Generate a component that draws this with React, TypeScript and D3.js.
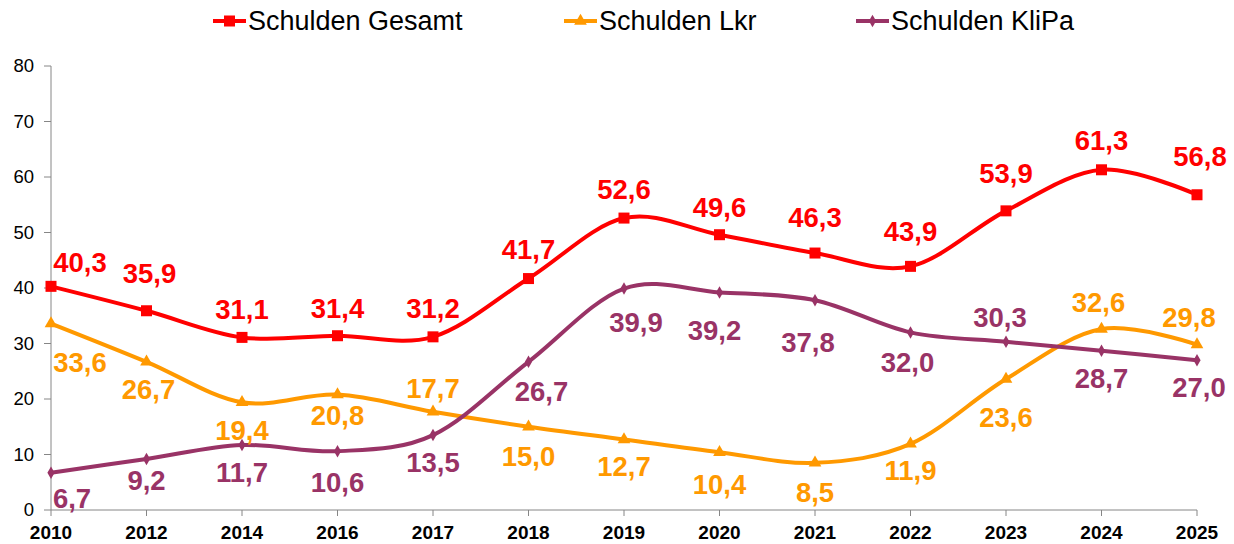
import React from 'react'
import * as d3 from 'd3'

const years = ['2010', '2012', '2014', '2016', '2017', '2018', '2019', '2020', '2021', '2022', '2023', '2024', '2025']
const gesamt = [40.3, 35.9, 31.1, 31.4, 31.2, 41.7, 52.6, 49.6, 46.3, 43.9, 53.9, 61.3, 56.8]
const lkr = [33.6, 26.7, 19.4, 20.8, 17.7, 15.0, 12.7, 10.4, 8.5, 11.9, 23.6, 32.6, 29.8]
const klipa = [6.7, 9.2, 11.7, 10.6, 13.5, 26.7, 39.9, 39.2, 37.8, 32.0, 30.3, 28.7, 27.0]
const yTicks = [0, 10, 20, 30, 40, 50, 60, 70, 80]

// label nudges (px) relative to each point, as placed in the original
const gesamtDx = [29, 3, 0, 0, 0, 0, 0, 0, 0, 0, 0, 0, 3]
const gesamtDy = [-24, -38, -28, -28, -29, -29, -29, -28, -36, -35, -38, -30, -39]
const lkrDx = [29, 2, 0, 0, 0, 0, 0, 0, 0, 0, 0, -3, -8]
const lkrDy = [39, 27, 28, 21, -24, 29, 27, 32, 29, 26, 38, -27, -28]
const klipaDx = [21, 0, 0, 0, 0, 13, 12, -5, -7, -3, -6, 0, 2]
const klipaDy = [25, 21, 27, 31, 27, 29, 34, 38, 42, 30, -25, 27, 27]

const W = 1234
const H = 544
const left = 51
const right = 1197
const top = 66
const bottom = 510
const font = '"Liberation Sans", Arial, sans-serif'
const fmt = (v: number) => v.toFixed(1).replace('.', ',')

const series = [
  { name: 'Schulden Gesamt', values: gesamt, color: '#FF0000', marker: 'square', dx: gesamtDx, dy: gesamtDy, lx: 213 },
  { name: 'Schulden Lkr', values: lkr, color: '#FF9900', marker: 'triangle', dx: lkrDx, dy: lkrDy, lx: 564 },
  { name: 'Schulden KliPa', values: klipa, color: '#993366', marker: 'diamond', dx: klipaDx, dy: klipaDy, lx: 856 },
]

function Marker({ type, x, y, color }: { type: string; x: number; y: number; color: string }) {
  if (type === 'square') {
    return <rect x={x - 5.5} y={y - 5.5} width={11} height={11} fill={color} />
  }
  const sym = type === 'triangle' ? d3.symbolTriangle : d3.symbolDiamond
  const size = type === 'triangle' ? 70 : 45
  return <path d={d3.symbol().type(sym).size(size)() || ''} transform={`translate(${x},${y})`} fill={color} />
}

export default function App() {
  const x = d3.scalePoint<string>().domain(years).range([left, right])
  const y = d3.scaleLinear().domain([0, 80]).range([bottom, top])

  const line = d3
    .line<number>()
    .x((d, i) => x(years[i]) as number)
    .y(d => y(d))
    .curve(d3.curveCardinal.tension(0))

  return (
    <svg width={W} height={H} style={{ position: 'absolute', left: 0, top: 0, background: '#fff' }} fontFamily={font}>
      {/* axes */}
      <line x1={left} x2={left} y1={top} y2={bottom} stroke="#868686" strokeWidth={1} />
      <line x1={left} x2={right} y1={bottom} y2={bottom} stroke="#868686" strokeWidth={1} />
      {yTicks.map(t => (
        <g key={t}>
          <line x1={left - 7} x2={left} y1={y(t)} y2={y(t)} stroke="#868686" />
          <text x={34} y={y(t)} dy="0.35em" textAnchor="end" fontSize={18.5} fill="#000">
            {t}
          </text>
        </g>
      ))}
      {years.map(yr => (
        <g key={yr}>
          <line x1={x(yr)} x2={x(yr)} y1={bottom} y2={bottom + 6} stroke="#868686" />
          <text x={x(yr)} y={539} textAnchor="middle" fontSize={19} fontWeight="bold" fill="#000">
            {yr}
          </text>
        </g>
      ))}

      {/* lines */}
      {series.map(s => (
        <g key={s.name}>
          <path d={line(s.values) || ''} fill="none" stroke={s.color} strokeWidth={4} />
          {s.values.map((v, i) => (
            <Marker key={i} type={s.marker} x={x(years[i]) as number} y={y(v)} color={s.color} />
          ))}
        </g>
      ))}

      {/* data labels */}
      {series.map(s =>
        s.values.map((v, i) => (
          <text
            key={s.name + i}
            x={(x(years[i]) as number) + s.dx[i]}
            y={y(v) + s.dy[i]}
            dy="0.36em"
            textAnchor="middle"
            fontSize={27.5}
            fontWeight="bold"
            fill={s.color}
          >
            {fmt(v)}
          </text>
        ))
      )}

      {/* legend */}
      {series.map(s => (
        <g key={'lg' + s.name}>
          <line x1={s.lx} x2={s.lx + 33} y1={21} y2={21} stroke={s.color} strokeWidth={4} />
          <Marker type={s.marker} x={s.lx + 16.5} y={21} color={s.color} />
          <text x={s.lx + 35} y={21} dy="0.35em" fontSize={27} fill="#000">
            {s.name}
          </text>
        </g>
      ))}
    </svg>
  )
}
